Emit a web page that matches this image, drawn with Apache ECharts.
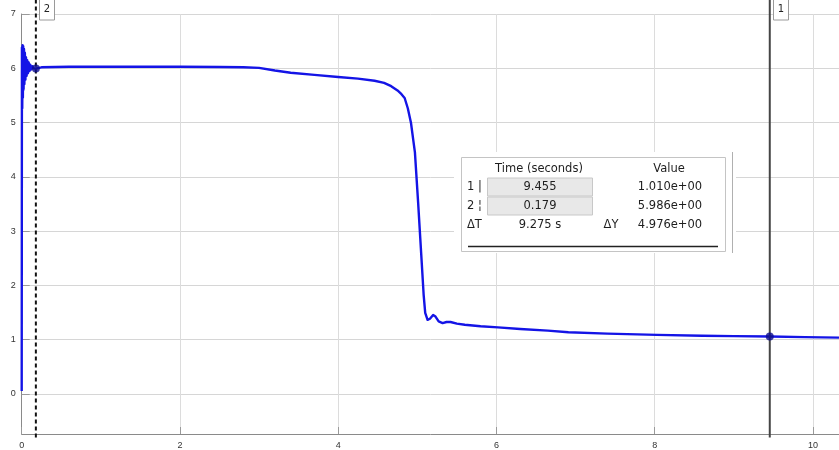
<!DOCTYPE html>
<html>
<head>
<meta charset="utf-8">
<script src="https://cdn.jsdelivr.net/npm/echarts@6/dist/echarts.min.js"></script>
<style>
  html, body { margin: 0; padding: 0; background: #fff; }
  #chart { width: 839px; height: 450px; }
</style>
</head>
<body>
<div id="chart"></div>
<script>
// Signal trace: time (s) and value
const signalTime = [
  0, 0.003, 0.007, 0.011, 0.015, 0.019, 0.024, 0.029, 0.034, 0.04,
  0.047, 0.054, 0.062, 0.07, 0.079, 0.088, 0.098, 0.108, 0.12, 0.133,
  0.15, 0.179, 0.25, 0.6, 1.2, 2.0, 2.5, 2.8, 3.0, 3.2,
  3.4, 3.7, 4.0, 4.25, 4.46, 4.58, 4.67, 4.75, 4.8, 4.84,
  4.88, 4.92, 4.95, 4.97, 5.01, 5.05, 5.08, 5.1, 5.13, 5.16,
  5.2, 5.23, 5.27, 5.32, 5.37, 5.42, 5.5, 5.6, 5.8, 6.02,
  6.3, 6.65, 6.91, 7.4, 8.03, 8.6, 9.0, 9.455, 9.9, 10.33
];
const signalValue = [
  0, 6.38, 5.25, 6.42, 5.45, 6.4, 5.6, 6.35, 5.7, 6.28,
  5.78, 6.2, 5.85, 6.14, 5.9, 6.1, 5.94, 6.06, 5.97, 6.03,
  5.99, 5.986, 6.01, 6.02, 6.02, 6.02, 6.015, 6.01, 6.0, 5.95,
  5.91, 5.87, 5.83, 5.8, 5.76, 5.72, 5.66, 5.58, 5.51, 5.44,
  5.25, 4.98, 4.65, 4.43, 3.51, 2.53, 1.79, 1.45, 1.32, 1.34,
  1.41, 1.38, 1.29, 1.26, 1.28, 1.28, 1.25, 1.23, 1.2, 1.18,
  1.15, 1.12, 1.09, 1.065, 1.04, 1.025, 1.017, 1.01, 1.0, 0.99
];

// Measurement cursors (1 = solid, 2 = dashed)
const cursorNames = ['1', '2'];
const cursorTimes = [9.455, 0.179];
const cursorValues = [1.010, 5.986];
const cursorTimeText = ['9.455', '0.179'];
const cursorValueText = ['1.010e+00', '5.986e+00'];
const deltaTText = '9.275 s';
const deltaYText = '4.976e+00';

// Axis ranges and ticks
const xRange = [0, 10.33];
const xTickStep = 2;
const yRange = [-0.8, 7];
const yLabelRange = [0, 7];
const yTickStep = 1;

const FONT = '"Liberation Sans", Arial, sans-serif';
const PANEL_FONT = '"DejaVu Sans", Verdana, sans-serif';
const plotLeft = 21.7, plotWidth = 817.3, plotTop = 14, plotBottom = 437.4;
const yUnitPx = (plotBottom - plotTop) / (yRange[1] - yRange[0]);

const chart = echarts.init(document.getElementById('chart'), null, { renderer: 'canvas' });

const signalData = signalTime.map((t, i) => [t, signalValue[i]]);

const option = {
  animation: false,
  backgroundColor: '#fff',
  grid: [
    // data area
    { left: plotLeft, top: plotTop, width: plotWidth, height: plotBottom - plotTop },
    // integer tick rows 0..7
    { left: plotLeft, top: plotTop, width: plotWidth, height: (yLabelRange[1] - yLabelRange[0]) * yUnitPx },
    // cursor lines, reaching up to the top of the page
    { left: plotLeft, top: 0, width: plotWidth, height: plotBottom }
  ],
  xAxis: [
    {
      gridIndex: 0, type: 'value', min: xRange[0], max: xRange[1], interval: xTickStep,
      axisLine: { show: true, onZero: false, lineStyle: { color: '#8a8a8a', width: 1 } },
      axisTick: { show: true, inside: true, length: 7, lineStyle: { color: '#9a9a9a' } },
      axisLabel: { show: true, showMaxLabel: false, fontSize: 9, color: '#333', margin: 7, fontFamily: FONT },
      splitLine: { show: true, lineStyle: { color: '#dcdcdc', width: 1 } }
    },
    { gridIndex: 1, type: 'value', min: xRange[0], max: xRange[1], show: false },
    { gridIndex: 2, type: 'value', min: xRange[0], max: xRange[1], show: false }
  ],
  yAxis: [
    {
      gridIndex: 0, type: 'value', min: yRange[0], max: yRange[1],
      axisLine: { show: true, onZero: false, lineStyle: { color: '#8a8a8a', width: 1 } },
      axisTick: { show: false }, axisLabel: { show: false }, splitLine: { show: false }
    },
    {
      gridIndex: 1, type: 'value', min: yLabelRange[0], max: yLabelRange[1], interval: yTickStep,
      axisLine: { show: false },
      axisTick: { show: true, inside: true, length: 8, lineStyle: { color: '#9a9a9a' } },
      axisLabel: { show: true, fontSize: 9, color: '#333', margin: 6, fontFamily: FONT },
      splitLine: { show: true, lineStyle: { color: '#d6d6d6', width: 1 } }
    },
    { gridIndex: 2, type: 'value', min: 0, max: 1, show: false }
  ],
  series: [
    {
      name: 'signal', type: 'line', xAxisIndex: 0, yAxisIndex: 0,
      data: signalData, showSymbol: false, symbol: 'none', smooth: false,
      lineStyle: { color: '#1414e6', width: 2.4, join: 'round' },
      z: 3
    },
    {
      name: 'cursor 1', type: 'line', xAxisIndex: 2, yAxisIndex: 2,
      data: [[cursorTimes[0], 0], [cursorTimes[0], 1]], showSymbol: false, symbol: 'none',
      lineStyle: { color: '#454545', width: 2 }, z: 4
    },
    {
      name: 'cursor 2', type: 'line', xAxisIndex: 2, yAxisIndex: 2,
      data: [[cursorTimes[1], 0], [cursorTimes[1], 1]], showSymbol: false, symbol: 'none',
      lineStyle: { color: '#111', width: 2, type: [4, 3] }, z: 4
    },
    {
      name: 'cursor points', type: 'scatter', xAxisIndex: 0, yAxisIndex: 0,
      data: cursorTimes.map((t, i) => [t, cursorValues[i]]),
      symbol: 'circle', symbolSize: 8,
      itemStyle: { color: '#0b0b8e' }, z: 5
    }
  ]
};

chart.setOption(option);

// Cursor name tags at the top of each cursor line
const graphics = [];
cursorNames.forEach((name, i) => {
  const px = chart.convertToPixel({ xAxisIndex: 2 }, cursorTimes[i]);
  graphics.push({
    type: 'rect', z: 10,
    shape: { x: Math.round(px) + 3.5, y: -3, width: 15, height: 23 },
    style: { fill: '#fff', stroke: '#9a9a9a', lineWidth: 1 }
  });
  graphics.push({
    type: 'text', z: 11,
    style: {
      x: Math.round(px) + 11, y: 9, text: name, fill: '#222',
      font: '10px ' + PANEL_FONT, textAlign: 'center', textVerticalAlign: 'middle'
    }
  });
});

// Measurement readout panel
const panel = [];
panel.push({ type: 'rect', shape: { x: 454, y: 152, width: 282, height: 101 }, style: { fill: '#fff', stroke: null } });
panel.push({ type: 'rect', shape: { x: 461.5, y: 157.5, width: 264, height: 94 }, style: { fill: 'none', stroke: '#c4c4c4', lineWidth: 1 } });
panel.push({ type: 'line', shape: { x1: 732.5, y1: 152, x2: 732.5, y2: 253 }, style: { stroke: '#b0b0b0', lineWidth: 1 } });
const txt = (x, y, s, align) => ({
  type: 'text',
  style: { x, y, text: s, fill: '#1e1e1e', font: '11.5px ' + PANEL_FONT, textAlign: align || 'center', textVerticalAlign: 'middle' }
});
panel.push(txt(539, 169.5, 'Time (seconds)'));
panel.push(txt(669, 169.5, 'Value'));
const rowY = [187.5, 206.5];
rowY.forEach((y, i) => {
  panel.push({ type: 'rect', shape: { x: 487.5, y: y - 9.5, width: 105, height: 18 }, style: { fill: '#e8e8e8', stroke: '#c8c8c8', lineWidth: 1 } });
  panel.push(txt(467, y, cursorNames[i] + (i === 0 ? ' |' : ' ¦'), 'left'));
  panel.push(txt(540, y, cursorTimeText[i]));
  panel.push(txt(670, y, cursorValueText[i]));
});
panel.push(txt(467, 225.5, 'ΔT', 'left'));
panel.push(txt(540, 225.5, deltaTText));
panel.push(txt(611, 225.5, 'ΔY'));
panel.push(txt(670, 225.5, deltaYText));
panel.push({ type: 'line', shape: { x1: 468, y1: 246.5, x2: 718, y2: 246.5 }, style: { stroke: '#222', lineWidth: 1.5 } });

graphics.push({ type: 'group', z: 20, children: panel });

chart.setOption({ graphic: graphics });
</script>
</body>
</html>
